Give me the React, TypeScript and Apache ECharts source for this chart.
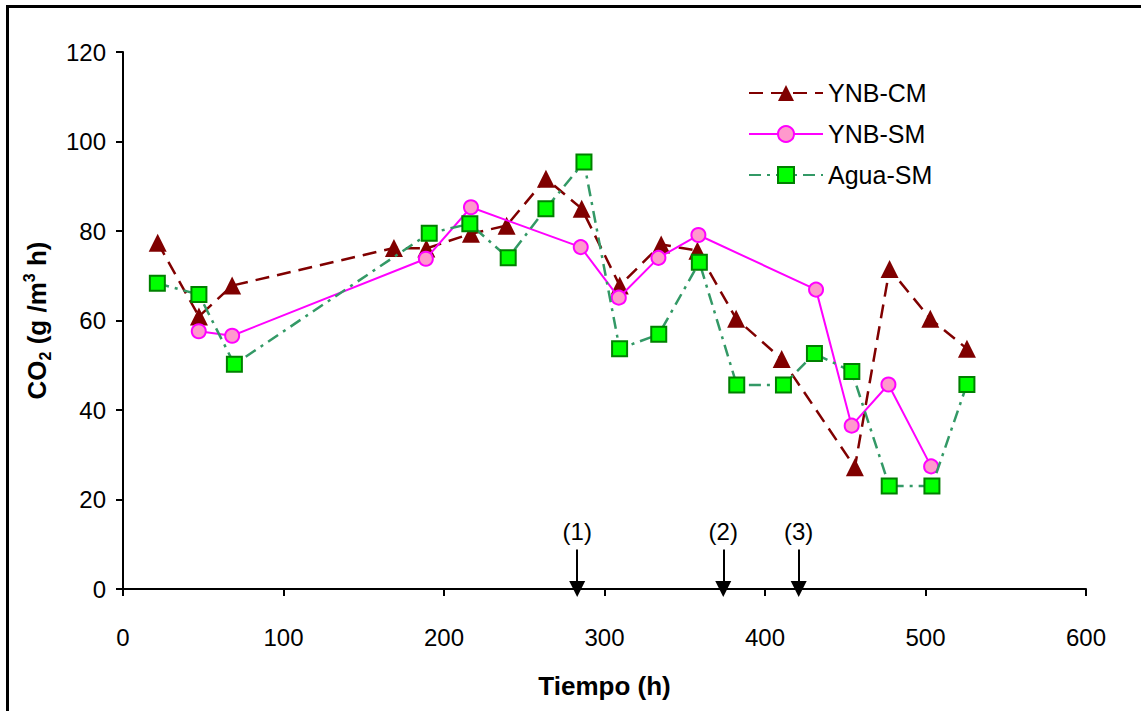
import React, { useEffect, useRef } from "react";
import * as echarts from "echarts";

const FONT = "'Liberation Sans', Arial, Helvetica, sans-serif";

const seriesNames = ["YNB-CM", "YNB-SM", "Agua-SM"];

const ynbCm: [number, number][] = [
  [21.6, 77.4], [47.3, 60.9], [68, 67.8], [168.8, 76.2], [189, 76.1],
  [216.8, 79.4], [239, 81.2], [263.5, 91.7], [285.8, 85], [309.5, 67.8],
  [335.3, 77], [357.9, 75.6], [382, 60.4], [410.4, 51.4], [456, 27.2],
  [477.6, 71.5], [503, 60.4], [525.8, 53.7],
];

const ynbSm: [number, number][] = [
  [47.2, 57.6], [68, 56.6], [188.7, 73.8], [216.8, 85.3], [285.2, 76.4],
  [308.9, 65.1], [333.6, 74], [358.5, 79.1], [431.8, 66.9], [454, 36.5],
  [476.9, 45.7], [503.5, 27.4],
];

const aguaSm: [number, number][] = [
  [21.4, 68.3], [47.3, 65.8], [69.4, 50.2], [190.8, 79.5], [216.1, 81.6],
  [240, 74], [263.5, 85], [287.2, 95.4], [309.4, 53.7], [333.8, 56.9],
  [359.1, 73], [382.4, 45.6], [411.5, 45.6], [430.8, 52.6], [454.1, 48.6],
  [477.4, 23], [504, 23], [525.8, 45.7],
];

const arrowTimes = [283, 374, 421];
const arrowLabels = ["(1)", "(2)", "(3)"];
const arrowTop = 8.8;

export default function App() {
  const ref = useRef<HTMLDivElement>(null);
  useEffect(() => {
    if (!ref.current) return;
    const chart = echarts.init(ref.current, null, { renderer: "svg" });
    const axisLine = { show: true, lineStyle: { color: "#000", width: 2 } };
    const axisTick = { show: true, inside: false, length: 7, lineStyle: { color: "#000", width: 2 } };
    chart.setOption({
      animation: false,
      backgroundColor: "#fff",
      textStyle: { fontFamily: FONT },
      graphic: [
        {
          type: "rect",
          shape: { x: 7.5, y: 6.5, width: 1300, height: 900 },
          style: { fill: "none", stroke: "#000", lineWidth: 3 },
          silent: true,
          z: 100,
        },
      ],
      grid: { left: 123, right: 55, top: 52, bottom: 122, containLabel: false },
      legend: {
        data: seriesNames,
        orient: "vertical",
        left: 743,
        top: 73,
        itemWidth: 74,
        itemHeight: 20,
        itemGap: 11,
        textStyle: { fontFamily: FONT, fontSize: 25, color: "#000", lineHeight: 30 },
        selectedMode: false,
      },
      xAxis: {
        type: "value",
        min: 0,
        max: 600,
        interval: 100,
        axisLine,
        axisTick,
        splitLine: { show: false },
        axisLabel: { fontFamily: FONT, fontSize: 24, color: "#000", margin: 36 },
        name: "Tiempo (h)",
        nameLocation: "middle",
        nameGap: 84,
        nameTextStyle: { fontFamily: FONT, fontSize: 26, fontWeight: "bold", color: "#000" },
      },
      yAxis: {
        type: "value",
        min: 0,
        max: 120,
        interval: 20,
        axisLine,
        axisTick,
        splitLine: { show: false },
        axisLabel: { fontFamily: FONT, fontSize: 24, color: "#000", margin: 17 },
        name: "{b|CO}{sub|2}{b| (g /m}{sup|3}{b| h)}",
        nameLocation: "middle",
        nameGap: 70,
        nameRotate: 90,
        nameTextStyle: {
          fontFamily: FONT,
          fontSize: 26,
          fontWeight: "bold",
          color: "#000",
          rich: {
            b: { fontFamily: FONT, fontSize: 26, fontWeight: "bold", color: "#000", lineHeight: 32, verticalAlign: "middle" },
            sub: { fontFamily: FONT, fontSize: 16, fontWeight: "bold", color: "#000", lineHeight: 16, verticalAlign: "bottom" },
            sup: { fontFamily: FONT, fontSize: 16, fontWeight: "bold", color: "#000", lineHeight: 16, verticalAlign: "top" },
          },
        },
      },
      series: [
        {
          name: "YNB-CM",
          type: "line",
          data: ynbCm,
          symbol: "triangle",
          symbolSize: 18,
          lineStyle: { color: "#800000", width: 2.5, type: [14, 8] },
          itemStyle: { color: "#800000", borderColor: "#800000", borderWidth: 0 },
          z: 2,
          markLine: {
            silent: true,
            animation: false,
            symbol: ["none", "triangle"],
            symbolSize: 16,
            lineStyle: { color: "#000", width: 2, type: "solid" },
            emphasis: { disabled: true },
            label: {
              show: true,
              position: "start",
              formatter: "{b}",
              distance: 6,
              fontFamily: FONT,
              fontSize: 24,
              color: "#000",
            },
            data: arrowTimes.map((t, i) => [
              { name: arrowLabels[i], coord: [t, arrowTop] },
              { coord: [t, 0] },
            ]),
          },
        },
        {
          name: "YNB-SM",
          type: "line",
          data: ynbSm,
          symbol: "circle",
          symbolSize: 14,
          lineStyle: { color: "#FF00FF", width: 2, type: "solid" },
          itemStyle: { color: "#FF99CC", borderColor: "#FF00FF", borderWidth: 2 },
          z: 3,
        },
        {
          name: "Agua-SM",
          type: "line",
          data: aguaSm,
          symbol: "rect",
          symbolSize: 15,
          lineStyle: { color: "#339966", width: 2.5, type: [12, 6, 3, 6] },
          itemStyle: { color: "#00FF00", borderColor: "#008000", borderWidth: 2 },
          z: 4,
        },
      ],
    });
    return () => chart.dispose();
  }, []);
  return (
    <div
      ref={ref}
      style={{ position: "absolute", left: 0, top: 0, width: 1141, height: 711 }}
    />
  );
}
